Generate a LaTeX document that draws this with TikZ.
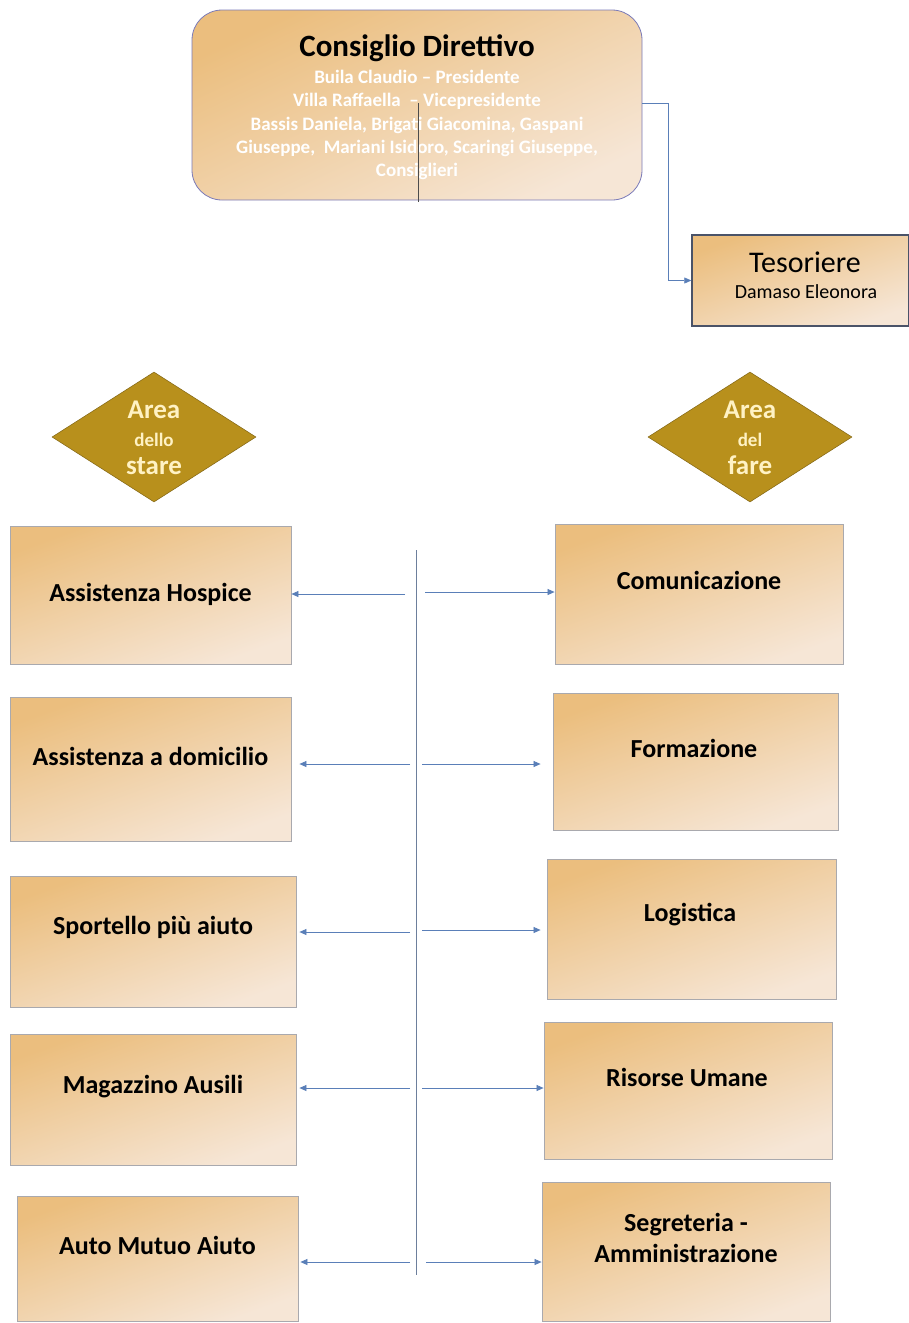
\documentclass[tikz,border=0pt]{standalone}
\usepackage{fontspec}
\setmainfont{Carlito}
\usetikzlibrary{shapes.geometric,arrows.meta}
\definecolor{orA}{HTML}{EBBE7E}
\definecolor{orB}{HTML}{F6E6D6}
\definecolor{gold}{HTML}{B8901C}
\definecolor{goldtxt}{HTML}{FFF2C4}
\definecolor{lnblue}{HTML}{5A7FB8}
\definecolor{edge}{HTML}{A9A9AE}
\definecolor{slate}{HTML}{4A5368}
\tikzset{
  box/.style={draw=edge, line width=0.8pt, shading=axis, top color=orA, bottom color=orB, shading angle=20, inner sep=0pt},
  lbl/.style={font=\bfseries\fontsize{26}{31}\selectfont, text=black, align=center},
  dia/.style={diamond, aspect=1.57, draw=gold!70!black, line width=0.5pt, fill=gold, inner sep=0pt, minimum width=204pt, minimum height=130pt},
  diatxt/.style={text=goldtxt, font=\bfseries\fontsize{27}{28}\selectfont, align=center},
  arr/.style={draw=lnblue, line width=0.7pt, -{Triangle[length=7pt,width=6pt]}},
  ln/.style={draw=lnblue!70!gray, line width=0.7pt}
}
\begin{document}
\begin{tikzpicture}[x=1pt,y=-1pt]
\useasboundingbox (0,0) rectangle (909,1323);
% Consiglio Direttivo
\node[box, draw=gray!70!blue!80, rounded corners=30pt, minimum width=450pt, minimum height=190pt, shading angle=25] (CD) at (417,105) {};
\node[font=\bfseries\fontsize{31}{36}\selectfont, text=black] (CDt) at (417,48) {Consiglio Direttivo};
\node[font=\bfseries\fontsize{19}{23.2}\selectfont, text=white, align=center] (CDm) at (417,125)
  {Buila Claudio -- Presidente\\
   Villa Raffaella \ -- Vicepresidente\\
   Bassis Daniela, Brigati Giacomina, Gaspani\\
   Giuseppe, \ Mariani Isidoro, Scaringi Giuseppe,\\
   Consiglieri};
\coordinate (cdA) at (418,103);
\coordinate (cdB) at (418,202);
\draw[draw=gray!60!black, line width=0.6pt] (cdA) -- (cdB);
% Tesoriere
\node[box, draw=slate, line width=1.4pt, minimum width=217pt, minimum height=91pt] (TES) at (800.5,280.5) {};
\node[font=\fontsize{30}{34}\selectfont, text=black] (TESt) at (805,262) {Tesoriere};
\node[font=\fontsize{20}{24}\selectfont, text=black] (TESn) at (806,292) {Damaso Eleonora};
\coordinate (cdE) at (642,103);
\coordinate (tk) at (668,103);
\draw[arr, line width=0.5pt] (cdE) -- (tk) |- (TES.west);
% diamonds
\node[dia] (DL) at (154,437) {};
\node[diatxt] (DLt) at (154,438) {Area\\{\fontsize{19}{20}\selectfont dello}\\stare};
\node[dia] (DR) at (750,437) {};
\node[diatxt] (DRt) at (750,438) {Area\\{\fontsize{19}{20}\selectfont del}\\fare};
% central line
\coordinate (cT) at (416,550);
\coordinate (cB) at (416,1275);
\draw[ln, draw=lnblue!50!gray] (cT) -- (cB);
% left boxes
\node[box, minimum width=281pt, minimum height=138pt] (L1) at (150.5,595) {};
\node[lbl] (L1t) at (150.5,594) {Assistenza Hospice};
\node[box, minimum width=281pt, minimum height=144pt] (L2) at (150.5,769) {};
\node[lbl] (L2t) at (150.5,756) {Assistenza a domicilio};
\node[box, minimum width=286pt, minimum height=131pt] (L3) at (153,941.5) {};
\node[lbl] (L3t) at (153,927) {Sportello più aiuto};
\node[box, minimum width=286pt, minimum height=131pt] (L4) at (153,1099.5) {};
\node[lbl] (L4t) at (153,1087) {Magazzino Ausili};
\node[box, minimum width=281pt, minimum height=125pt] (L5) at (157.5,1258.5) {};
\node[lbl] (L5t) at (157.5,1245) {Auto Mutuo Aiuto};
% right boxes
\node[box, minimum width=288pt, minimum height=140pt] (R1) at (699,594) {};
\node[lbl] (R1t) at (699,580) {Comunicazione};
\node[box, minimum width=285pt, minimum height=137pt] (R2) at (695.5,761.5) {};
\node[lbl] (R2t) at (694,748) {Formazione};
\node[box, minimum width=289pt, minimum height=140pt] (R3) at (691.5,929) {};
\node[lbl] (R3t) at (690,915) {Logistica};
\node[box, minimum width=288pt, minimum height=137pt] (R4) at (688,1090.5) {};
\node[lbl] (R4t) at (687,1077) {Risorse Umane};
\node[box, minimum width=288pt, minimum height=139pt] (R5) at (686,1251.5) {};
\node[lbl] (R5t) at (686,1238) {Segreteria -\\Amministrazione};
% arrows
\coordinate (a1l) at (405,594); \coordinate (a1r) at (425,592);
\coordinate (a2l) at (410,764); \coordinate (a2r) at (422,764);
\coordinate (a3l) at (410,932); \coordinate (a3r) at (422,930);
\coordinate (a4l) at (410,1088); \coordinate (a4r) at (422,1088);
\coordinate (a5l) at (410,1262); \coordinate (a5r) at (426,1262);
\draw[arr] (a1l) -- (a1l -| L1.east);
\draw[arr] (a1r) -- (a1r -| R1.west);
\draw[arr] (a2l) -- ([xshift=8pt]a2l -| L2.east);
\draw[arr] (a2r) -- ([xshift=-12pt]a2r -| R2.west);
\draw[arr] (a3l) -- ([xshift=3pt]a3l -| L3.east);
\draw[arr] (a3r) -- ([xshift=-6pt]a3r -| R3.west);
\draw[arr] (a4l) -- ([xshift=3pt]a4l -| L4.east);
\draw[arr] (a4r) -- (a4r -| R4.west);
\draw[arr] (a5l) -- ([xshift=2pt]a5l -| L5.east);
\draw[arr] (a5r) -- (a5r -| R5.west);
\end{tikzpicture}
\end{document}
